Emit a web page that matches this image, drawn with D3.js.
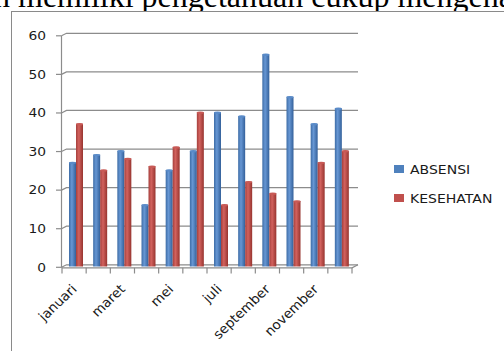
<!DOCTYPE html>
<html><head><meta charset="utf-8">
<script src="https://cdn.jsdelivr.net/npm/d3@7"></script>
<style>html,body{margin:0;padding:0;background:#fff;overflow:hidden}</style>
</head><body>
<script>
const months = ["januari","februari","maret","april","mei","juni","juli","agustus","september","oktober","november","desember"];
const absensi = [27,29,30,16,25,30,40,39,55,44,37,41];
const kesehatan = [37,25,28,26,31,40,16,22,19,17,27,30];
const yTicks = [0,10,20,30,40,50,60];
const seriesNames = ["ABSENSI","KESEHATAN"];
const seriesColors = ["#4F81BD","#C0504D"];
const headerText = "n memiliki pengetahuan cukup mengenai";

const W = 504, H = 351;
const svg = d3.select("body").append("svg").attr("width", W).attr("height", H)
  .style("display","block");

// header text (cut off by the page top and chart box)
svg.append("text").attr("x", -6).attr("y", 6.5)
  .attr("font-family", "Liberation Serif, serif").attr("font-size", 32)
  .attr("fill", "#000").text(headerText);

// chart box
svg.append("rect").attr("x", 11.5).attr("y", 11.5).attr("width", 600).attr("height", 400)
  .attr("fill", "#fff").attr("stroke", "#8a8a8a").attr("stroke-width", 1);

const x = d3.scaleBand().domain(months).range([62, 352]).padding(0);
const y = d3.scaleLinear().domain([0, 60]).range([266.5, 35]);
const dx = 5, dy = -2.5; // 3D depth offset
const gridColor = "#8c8c8c";

const defs = svg.append("defs");
function grad(id, dark, light, darker) {
  const g = defs.append("linearGradient").attr("id", id).attr("x1","0%").attr("x2","100%").attr("y1","0%").attr("y2","0%");
  g.append("stop").attr("offset","0%").attr("stop-color", dark);
  g.append("stop").attr("offset","40%").attr("stop-color", light);
  g.append("stop").attr("offset","100%").attr("stop-color", darker);
}
grad("gBlue", "#3d6ca6", "#6797d4", "#33609a");
grad("gRed", "#a53f3c", "#d2625e", "#97342f");

// gridlines (left wall diagonal + back wall horizontal)
const gl = svg.append("g");
yTicks.forEach(v => {
  const yf = y(v) + 0.8, yb = y(v) - 1.7;
  gl.append("path").attr("d", `M${x.range()[0]-0.5},${yf}L${x.range()[0]+dx-0.5},${yb}L${x.range()[1]+dx+1},${yb}`)
    .attr("fill","none").attr("stroke", gridColor).attr("stroke-width", 1.2);
});
// floor front edge and right diagonal
gl.append("path").attr("d", `M${x.range()[0]},${y(0)+1.3}L${x.range()[1]},${y(0)+1.3}L${x.range()[1]+dx+1},${y(0)-1.7}`)
  .attr("fill","none").attr("stroke", gridColor).attr("stroke-width", 1.2);
// y axis line
gl.append("line").attr("x1", 61.5).attr("x2", 61.5).attr("y1", y(60)+0.8).attr("y2", y(0)+1.3)
  .attr("stroke", gridColor).attr("stroke-width", 1.2);
// y tick marks
yTicks.forEach(v => {
  gl.append("line").attr("x1", 56).attr("x2", 61.5).attr("y1", y(v)+0.8).attr("y2", y(v)+0.8)
    .attr("stroke", gridColor).attr("stroke-width", 1.2);
});
// x tick marks at band boundaries
d3.range(months.length + 1).forEach(i => {
  const xx = x.range()[0] + i * x.step();
  gl.append("line").attr("x1", xx).attr("x2", xx).attr("y1", y(0)+1.3).attr("y2", y(0)+7)
    .attr("stroke", gridColor).attr("stroke-width", 1.2);
});

// y labels
const labelFont = "DejaVu Sans, sans-serif";
yTicks.forEach(v => {
  svg.append("text").attr("transform", `translate(46,${y(v)+5}) scale(1.2,1)`)
    .attr("text-anchor","end").attr("font-family", labelFont).attr("font-size", 11.5)
    .attr("fill","#1a1a1a").text(v);
});

// bars
const barW = 7;
const series = [absensi, kesehatan];
series.forEach((vals, si) => {
  const g = svg.append("g");
  g.selectAll("rect").data(vals).join("rect")
    .attr("x", (d, i) => x(months[i]) + 7 + si * barW)
    .attr("y", d => y(d))
    .attr("width", barW)
    .attr("height", d => y(0) - y(d))
    .attr("fill", si === 0 ? "url(#gBlue)" : "url(#gRed)");
  g.selectAll("ellipse").data(vals).join("ellipse")
    .attr("cx", (d, i) => x(months[i]) + 7 + si * barW + barW / 2)
    .attr("cy", d => y(d) + 0.5)
    .attr("rx", barW / 2).attr("ry", 1.2)
    .attr("fill", si === 0 ? "#5a8bc8" : "#c85a56");
});

// x labels (every second month)
months.forEach((m, i) => {
  if (i % 2 !== 0) return;
  const cx = x(m) + x.bandwidth() / 2;
  svg.append("text")
    .attr("transform", `translate(${cx + 3.5},${290}) scale(1.05,1) rotate(-45)`)
    .attr("text-anchor","end").attr("font-family", labelFont).attr("font-size", 13)
    .attr("fill","#1a1a1a").text(m);
});

// legend
seriesNames.forEach((n, i) => {
  const ly = 165 + i * 29;
  svg.append("rect").attr("x", 394).attr("y", ly).attr("width", 10).attr("height", 8)
    .attr("fill", seriesColors[i]);
  svg.append("text").attr("transform", `translate(410,${ly + 8.5}) scale(1.22,1)`)
    .attr("font-family", labelFont).attr("font-size", 11.5).attr("fill","#1a1a1a").text(n);
});
</script>
</body></html>
